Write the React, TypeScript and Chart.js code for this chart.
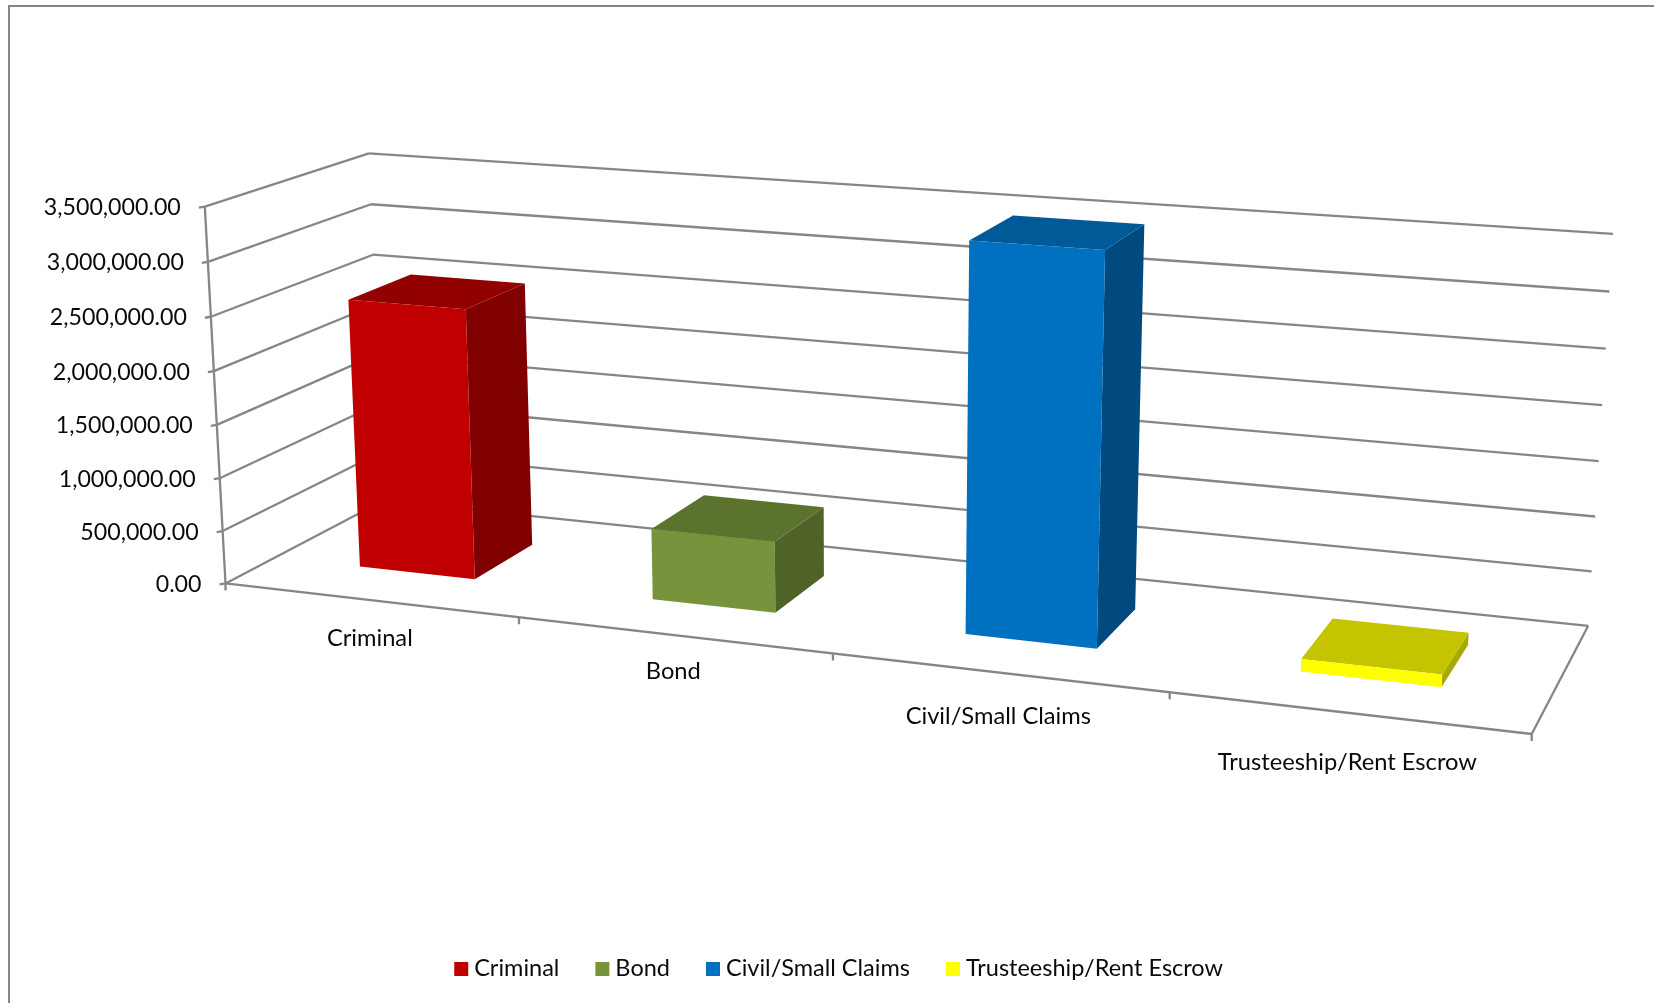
import React, { useEffect, useRef } from "react";
import { Chart, registerables } from "chart.js";

Chart.register(...registerables);

// Court receipts by division.
const categories = ["Criminal", "Bond", "Civil/Small Claims", "Trusteeship/Rent Escrow"];
const amounts = [2540000, 660000, 3490000, 110000];
const frontColors = ["#C00000", "#77933C", "#0070C0", "#FFFF00"];
const topColors = ["#930000", "#5C732E", "#005A98", "#C4C400"];
const sideColors = ["#800000", "#4F6228", "#004A80", "#A9A900"];

const WIDTH = 1654;
const HEIGHT = 1003;
const FONT = "Lato, sans-serif";
const AXIS_COLOR = "#868686";
const TEXT_COLOR = "#0A0A0A";

// Where the corners of the plot box land on the canvas: [u, v, w, x, y],
// with u along the categories, v up the values and w into the depth.
const boxCorners = [
  [0, 0, 0, 226.8, 582.3],
  [0, 1, 0, 203.6, 206.7],
  [0, 1, 1, 370.2, 153],
  [0, 0, 1, 381.8, 502],
  [1, 1, 1, 1612.8, 234.2],
  [1, 0, 1, 1588.5, 624.4],
  [1, 0, 0, 1531.6, 735.2],
];

// Depth range occupied by the columns.
const COLUMN_DEPTH = [0.3, 0.7];

// How far below the front edge each category label sits.
const categoryLabelDrop = [38, 36, 44, 50];

// Least-squares fit of a projective camera through the box corners.
function fitCamera(points: number[][]) {
  const rows: number[][] = [];
  const rhs: number[] = [];
  for (const [u, v, w, px, py] of points) {
    const x = px / 1000;
    const y = py / 1000;
    rows.push([u, v, w, 1, 0, 0, 0, 0, -x * u, -x * v, -x * w]);
    rhs.push(x);
    rows.push([0, 0, 0, 0, u, v, w, 1, -y * u, -y * v, -y * w]);
    rhs.push(y);
  }
  const n = 11;
  const a = Array.from({ length: n }, (_, i) =>
    Array.from({ length: n + 1 }, (_, j) =>
      rows.reduce((s, r, k) => s + r[i] * (j < n ? r[j] : rhs[k]), 0)
    )
  );
  for (let c = 0; c < n; c++) {
    let pivot = c;
    for (let r = c + 1; r < n; r++) if (Math.abs(a[r][c]) > Math.abs(a[pivot][c])) pivot = r;
    [a[c], a[pivot]] = [a[pivot], a[c]];
    for (let r = 0; r < n; r++) {
      if (r === c) continue;
      const f = a[r][c] / a[c][c];
      for (let j = c; j <= n; j++) a[r][j] -= f * a[c][j];
    }
  }
  return a.map((r, i) => r[n] / r[i]);
}

const cam = fitCamera(boxCorners);

function project(u: number, v: number, w: number): [number, number] {
  const d = cam[8] * u + cam[9] * v + cam[10] * w + 1;
  return [
    (1000 * (cam[0] * u + cam[1] * v + cam[2] * w + cam[3])) / d,
    (1000 * (cam[4] * u + cam[5] * v + cam[6] * w + cam[7])) / d,
  ];
}

function strokeLine(ctx: CanvasRenderingContext2D, a: [number, number], b: [number, number]) {
  ctx.beginPath();
  ctx.moveTo(a[0], a[1]);
  ctx.lineTo(b[0], b[1]);
  ctx.stroke();
}

function fillFace(ctx: CanvasRenderingContext2D, pts: [number, number][], color: string) {
  ctx.fillStyle = color;
  ctx.beginPath();
  pts.forEach((p, i) => (i ? ctx.lineTo(p[0], p[1]) : ctx.moveTo(p[0], p[1])));
  ctx.closePath();
  ctx.fill();
}

const formatAmount = (n: number) =>
  n.toLocaleString("en-US", { minimumFractionDigits: 2, maximumFractionDigits: 2 });

// Paints the frame, box walls, axis labels, columns and legend in perspective,
// taking every value position from the chart's own scales and bar elements.
const perspectivePlugin = {
  id: "perspectiveColumns",
  beforeDatasetsDraw(chart: any) {
    const ctx: CanvasRenderingContext2D = chart.ctx;
    const area = chart.chartArea;
    const yScale = chart.scales.y;
    const toV = (pixel: number) => (area.bottom - pixel) / area.height;
    const toU = (pixel: number) => (pixel - area.left) / area.width;

    ctx.save();

    // Outer frame, open at the right and bottom of the page.
    ctx.strokeStyle = AXIS_COLOR;
    ctx.lineWidth = 2;
    ctx.beginPath();
    ctx.moveTo(9, HEIGHT);
    ctx.lineTo(9, 6);
    ctx.lineTo(WIDTH, 6);
    ctx.stroke();

    // Value gridlines on the left and back walls, with value labels.
    ctx.lineWidth = 2.3;
    ctx.font = `23.2px ${FONT}`;
    ctx.textAlign = "right";
    ctx.textBaseline = "middle";
    for (const tick of yScale.ticks) {
      const v = toV(yScale.getPixelForValue(tick.value));
      const front = project(0, v, 0);
      const back = project(0, v, 1);
      strokeLine(ctx, front, back);
      strokeLine(ctx, back, project(1, v, 1));
      strokeLine(ctx, front, [front[0] - 6, front[1] + 1]);
      ctx.fillStyle = TEXT_COLOR;
      ctx.fillText(formatAmount(tick.value), front[0] - 24, front[1] + 1);
    }

    // Left wall upright and floor outline.
    strokeLine(ctx, project(0, 0, 0), project(0, 1, 0));
    strokeLine(ctx, project(0, 0, 0), project(1, 0, 0));
    strokeLine(ctx, project(1, 0, 0), project(1, 0, 1));

    // Category ticks and labels along the front edge.
    ctx.font = `23.7px ${FONT}`;
    ctx.textAlign = "center";
    const n = categories.length;
    for (let i = 0; i <= n; i++) {
      const p = project(i / n, 0, 0);
      strokeLine(ctx, p, [p[0], p[1] + 7]);
    }
    categories.forEach((label, i) => {
      const p = project((i + 0.5) / n, 0, 0);
      ctx.fillStyle = TEXT_COLOR;
      ctx.fillText(label, p[0], p[1] + categoryLabelDrop[i]);
    });

    // Columns, each built from its bar element's extent.
    const [near, far] = COLUMN_DEPTH;
    chart.getDatasetMeta(0).data.forEach((bar: any, i: number) => {
      const u0 = toU(bar.x - bar.width / 2);
      const u1 = toU(bar.x + bar.width / 2);
      const v = toV(bar.y);
      fillFace(ctx, [project(u1, 0, near), project(u1, 0, far), project(u1, v, far), project(u1, v, near)], sideColors[i]);
      fillFace(ctx, [project(u0, v, near), project(u1, v, near), project(u1, v, far), project(u0, v, far)], topColors[i]);
      fillFace(ctx, [project(u0, 0, near), project(u1, 0, near), project(u1, v, near), project(u0, v, near)], frontColors[i]);
    });

    // Legend row.
    const swatch = 14;
    const textGap = 6;
    const itemGap = 36;
    const legendCentre = 838.6;
    const legendY = 968;
    ctx.font = `23.5px ${FONT}`;
    ctx.textAlign = "left";
    const widths = categories.map((c) => ctx.measureText(c).width);
    const total = widths.reduce((s, w) => s + swatch + textGap + w, 0) + itemGap * (n - 1);
    let x = legendCentre - total / 2;
    categories.forEach((label, i) => {
      ctx.fillStyle = frontColors[i];
      ctx.fillRect(x, legendY - swatch / 2 + 1, swatch, swatch);
      x += swatch + textGap;
      ctx.fillStyle = TEXT_COLOR;
      ctx.fillText(label, x, legendY);
      x += widths[i] + itemGap;
    });

    ctx.restore();
    return false;
  },
};

export default function App() {
  const ref = useRef<HTMLCanvasElement>(null);

  useEffect(() => {
    const chart = new Chart(ref.current!, {
      type: "bar",
      data: {
        labels: categories,
        datasets: [{ label: "Amount", data: amounts, backgroundColor: frontColors }],
      },
      options: {
        animation: false,
        responsive: false,
        layout: { padding: 0 },
        datasets: { bar: { categoryPercentage: 0.4, barPercentage: 1 } },
        plugins: { legend: { display: false }, tooltip: { enabled: false } },
        scales: {
          x: {
            ticks: { display: false },
            grid: { display: false },
            border: { display: false },
          },
          y: {
            min: 0,
            max: 3500000,
            ticks: { stepSize: 500000, display: false },
            grid: { display: false },
            border: { display: false },
          },
        },
      },
      plugins: [perspectivePlugin],
    } as any);
    return () => chart.destroy();
  }, []);

  return (
    <canvas
      ref={ref}
      width={WIDTH}
      height={HEIGHT}
      style={{ position: "absolute", left: 0, top: 0, display: "block", background: "#fff" }}
    />
  );
}
